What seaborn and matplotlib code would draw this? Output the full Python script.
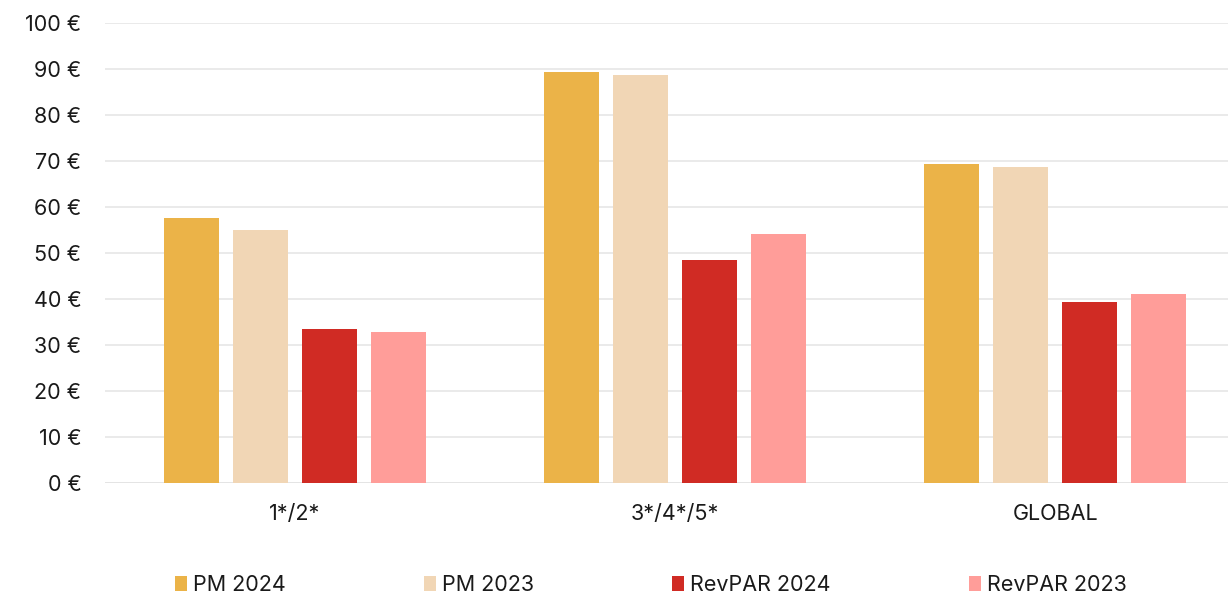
import matplotlib
matplotlib.use("Agg")
import matplotlib.pyplot as plt
from matplotlib.patches import Patch
from matplotlib.ticker import FuncFormatter
import seaborn as sns
import pandas as pd

categories = ["1*/2*", "3*/4*/5*", "GLOBAL"]
series_names = ["PM 2024", "PM 2023", "RevPAR 2024", "RevPAR 2023"]
pm_2024 = [57.5, 89.3, 69.3]
pm_2023 = [55.1, 88.7, 68.6]
revpar_2024 = [33.4, 48.5, 39.4]
revpar_2023 = [32.8, 54.2, 41.1]
colors = ["#EBB348", "#F1D6B5", "#D02B24", "#FF9D99"]
yticks = [0, 10, 20, 30, 40, 50, 60, 70, 80, 90, 100]

rows = []
for name, vals in zip(series_names, [pm_2024, pm_2023, revpar_2024, revpar_2023]):
    for c, v in zip(categories, vals):
        rows.append({"cat": c, "serie": name, "val": v})
df = pd.DataFrame(rows)

sns.set_theme(style="white")
plt.rcParams["font.family"] = ["Inter", "DejaVu Sans"]
FS = 15.5

W, H = 1228, 597
fig = plt.figure(figsize=(W / 100, H / 100), dpi=100)
ax = fig.add_axes([105 / W, (H - 483) / H, (W - 105) / W, 460 / H])

sns.barplot(data=df, x="cat", y="val", hue="serie", order=categories,
            hue_order=series_names, palette=colors, width=0.726, gap=0.2,
            saturation=1, ax=ax, legend=False, edgecolor="none")

ax.set_xlim(-0.5, 2.455)
ax.set_ylim(0, 100)
ax.set_yticks(yticks)
ax.yaxis.set_major_formatter(FuncFormatter(lambda v, p: f"{int(v)} €"))
ax.grid(axis="y", color="#E6E6E6", linewidth=1.2)
ax.set_axisbelow(True)
for s in ax.spines.values():
    s.set_visible(False)
ax.axhline(0, color="#D9D9D9", linewidth=1.2, zorder=0.5)
ax.tick_params(axis="y", length=0, pad=17, labelsize=FS, labelcolor="#1a1a1a")
ax.tick_params(axis="x", length=0, pad=15, labelsize=FS, labelcolor="#1a1a1a")
ax.set_xlabel("")
ax.set_ylabel("")

handles = [Patch(facecolor=c, edgecolor="none", label=n) for c, n in zip(colors, series_names)]
fs_px = FS * 100 / 72
fig.legend(handles=handles, loc="center", bbox_to_anchor=(651 / W, 1 - 585 / H),
           ncol=4, frameon=False, fontsize=FS,
           handlelength=12 / fs_px, handleheight=14 / fs_px,
           handletextpad=6 / fs_px, columnspacing=138 / fs_px,
           labelcolor="#1a1a1a")

fig.savefig("out.png", dpi=100)
